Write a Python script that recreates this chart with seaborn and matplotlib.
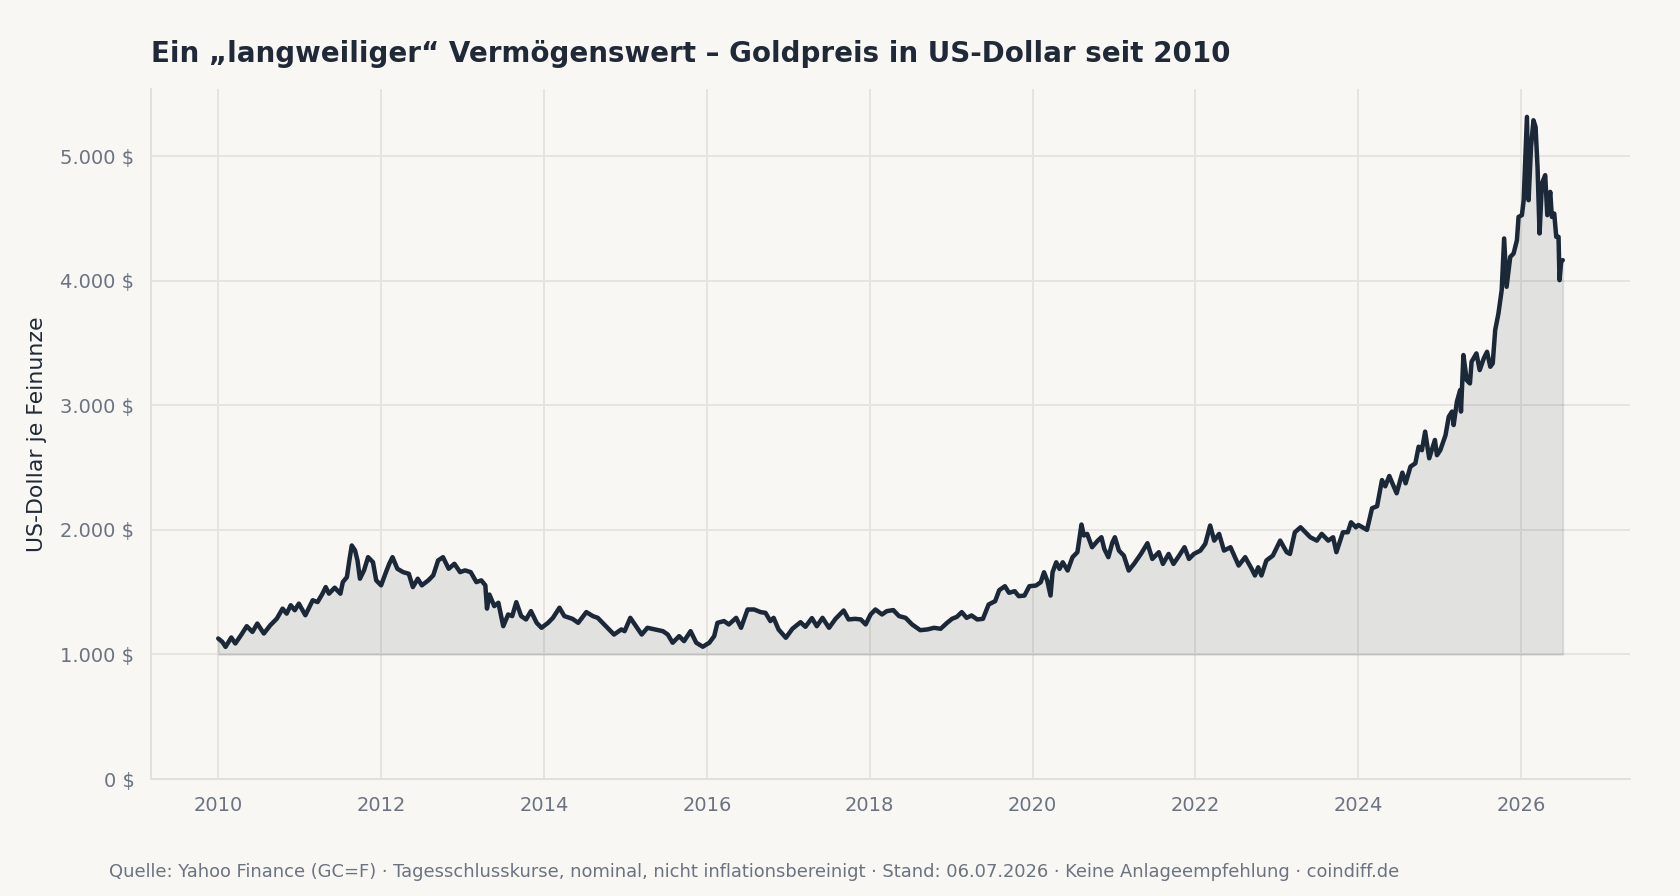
import numpy as np
import pandas as pd
import matplotlib
matplotlib.use("Agg")
import matplotlib.pyplot as plt
import seaborn as sns
from matplotlib.ticker import FuncFormatter, MultipleLocator

# ---- Data (decimal years, USD per troy ounce) ----
years_2010_2013 = [2010.00, 2010.05, 2010.09, 2010.16, 2010.21, 2010.28, 2010.35, 2010.42, 2010.48, 2010.56,
                   2010.64, 2010.72, 2010.79, 2010.84, 2010.89, 2010.94, 2010.99, 2011.07, 2011.16, 2011.22,
                   2011.28, 2011.32, 2011.36, 2011.43, 2011.50, 2011.53, 2011.58, 2011.61, 2011.64, 2011.68,
                   2011.71, 2011.74, 2011.79, 2011.84, 2011.90, 2011.94, 2012.00, 2012.06, 2012.10, 2012.14,
                   2012.20, 2012.27, 2012.34, 2012.39, 2012.45, 2012.50, 2012.58, 2012.64, 2012.70, 2012.76,
                   2012.83, 2012.90, 2012.97, 2013.03, 2013.10, 2013.17, 2013.23, 2013.28, 2013.30]
prices_2010_2013 = [1128, 1101, 1061, 1136, 1088, 1155, 1227, 1181, 1248, 1168,
                    1235, 1288, 1368, 1328, 1395, 1355, 1408, 1315, 1435, 1421,
                    1488, 1541, 1488, 1536, 1488, 1581, 1621, 1755, 1875, 1835,
                    1755, 1608, 1675, 1781, 1741, 1595, 1555, 1661, 1728, 1781,
                    1688, 1661, 1648, 1541, 1608, 1555, 1595, 1635, 1755, 1781,
                    1688, 1728, 1661, 1675, 1661, 1581, 1595, 1555, 1368]

years_2013_2016 = [2013.33, 2013.39, 2013.44, 2013.50, 2013.56, 2013.61, 2013.66, 2013.72, 2013.78, 2013.84,
                   2013.91, 2013.97, 2014.05, 2014.11, 2014.19, 2014.25, 2014.35, 2014.42, 2014.52, 2014.60,
                   2014.66, 2014.76, 2014.86, 2014.95, 2014.99, 2015.06, 2015.13, 2015.20, 2015.27, 2015.36,
                   2015.46, 2015.52, 2015.58, 2015.66, 2015.72, 2015.80, 2015.87, 2015.95, 2016.03, 2016.09,
                   2016.13, 2016.21, 2016.27, 2016.36, 2016.42, 2016.50, 2016.58]
prices_2013_2016 = [1481, 1388, 1415, 1227, 1321, 1308, 1420, 1308, 1281, 1348,
                    1254, 1214, 1254, 1294, 1375, 1308, 1286, 1254, 1340, 1308,
                    1294, 1227, 1160, 1201, 1187, 1294, 1227, 1160, 1214, 1201,
                    1187, 1160, 1094, 1147, 1107, 1187, 1094, 1062, 1094, 1147,
                    1254, 1268, 1241, 1294, 1214, 1361, 1361]

years_2016_2019 = [2016.66, 2016.72, 2016.78, 2016.82, 2016.88, 2016.97, 2017.05, 2017.15, 2017.21, 2017.29,
                   2017.35, 2017.42, 2017.50, 2017.58, 2017.68, 2017.74, 2017.82, 2017.89, 2017.95, 2018.01,
                   2018.07, 2018.15, 2018.21, 2018.29, 2018.36, 2018.44, 2018.52, 2018.62, 2018.71, 2018.79,
                   2018.87, 2018.95, 2019.01, 2019.07, 2019.13, 2019.19, 2019.25, 2019.32, 2019.39, 2019.46,
                   2019.54, 2019.59, 2019.66, 2019.71, 2019.78, 2019.83, 2019.90, 2019.96]
prices_2016_2019 = [1340, 1334, 1268, 1294, 1201, 1134, 1206, 1259, 1222, 1292,
                    1227, 1294, 1214, 1286, 1353, 1281, 1286, 1281, 1241, 1321,
                    1361, 1321, 1348, 1356, 1308, 1294, 1241, 1195, 1201, 1214,
                    1206, 1254, 1286, 1302, 1340, 1294, 1313, 1281, 1286, 1401,
                    1428, 1516, 1548, 1495, 1508, 1468, 1473, 1548]

years_2020_2023 = [2020.04, 2020.10, 2020.14, 2020.18, 2020.22, 2020.245, 2020.29, 2020.33, 2020.37, 2020.43,
                   2020.49, 2020.55, 2020.60, 2020.63, 2020.67, 2020.73, 2020.80, 2020.845, 2020.88, 2020.93,
                   2020.98, 2021.01, 2021.06, 2021.12, 2021.18, 2021.245, 2021.33, 2021.41, 2021.47, 2021.55,
                   2021.60, 2021.67, 2021.73, 2021.80, 2021.865, 2021.92, 2021.98, 2022.06, 2022.12, 2022.18,
                   2022.23, 2022.29, 2022.35, 2022.43, 2022.53, 2022.61, 2022.69, 2022.73, 2022.77, 2022.81,
                   2022.87, 2022.95, 2023.04, 2023.12, 2023.16, 2023.22, 2023.29, 2023.35, 2023.41, 2023.49,
                   2023.55, 2023.63, 2023.69, 2023.73, 2023.81, 2023.87, 2023.91, 2023.97]
prices_2020_2023 = [1553, 1580, 1660, 1593, 1473, 1660, 1740, 1687, 1740, 1674,
                    1781, 1821, 2043, 1955, 1968, 1861, 1914, 1941, 1848, 1781,
                    1900, 1941, 1834, 1794, 1674, 1727, 1807, 1893, 1767, 1821,
                    1727, 1807, 1727, 1794, 1861, 1767, 1807, 1834, 1888, 2035,
                    1914, 1968, 1834, 1861, 1714, 1781, 1687, 1634, 1700, 1634,
                    1754, 1794, 1914, 1821, 1807, 1981, 2021, 1981, 1941, 1914,
                    1968, 1914, 1941, 1821, 1981, 1981, 2061, 2021]

years_2024_2026 = [2024.00, 2024.106, 2024.168, 2024.23, 2024.29, 2024.33, 2024.38, 2024.47, 2024.54, 2024.58,
                   2024.64, 2024.70, 2024.74, 2024.78, 2024.82, 2024.87, 2024.94, 2024.965, 2025.006, 2025.07,
                   2025.11, 2025.15, 2025.17, 2025.21, 2025.25, 2025.26, 2025.29, 2025.33, 2025.37, 2025.39,
                   2025.45, 2025.49, 2025.54, 2025.58, 2025.62, 2025.65, 2025.68, 2025.72, 2025.76, 2025.79,
                   2025.82, 2025.865, 2025.906, 2025.947, 2025.967, 2026.008, 2026.03, 2026.07, 2026.09, 2026.12,
                   2026.15, 2026.176, 2026.20, 2026.225, 2026.254, 2026.294, 2026.32, 2026.356, 2026.376, 2026.405,
                   2026.43, 2026.458, 2026.47, 2026.49, 2026.51]
prices_2024_2026 = [2040, 2000, 2174, 2190, 2400, 2350, 2433, 2294, 2460, 2374,
                    2508, 2535, 2668, 2640, 2789, 2575, 2722, 2600, 2640, 2760,
                    2909, 2950, 2842, 3030, 3123, 2950, 3404, 3203, 3176, 3350,
                    3417, 3283, 3377, 3430, 3310, 3337, 3604, 3738, 3925, 4340,
                    3952, 4192, 4219, 4326, 4513, 4527, 4647, 5316, 4647, 5075,
                    5289, 5235, 4914, 4380, 4781, 4848, 4527, 4714, 4513, 4540,
                    4353, 4353, 4005, 4152, 4166]

x_ticks = [2010, 2012, 2014, 2016, 2018, 2020, 2022, 2024, 2026]
fill_base = 1000

title = "Ein \u201elangweiliger\u201c Vermögenswert \u2013 Goldpreis in US-Dollar seit 2010"
y_label = "US-Dollar je Feinunze"
footer = ("Quelle: Yahoo Finance (GC=F) \u00b7 Tagesschlusskurse, nominal, nicht inflationsbereinigt "
          "\u00b7 Stand: 06.07.2026 \u00b7 Keine Anlageempfehlung \u00b7 coindiff.de")

# ---- Styling ----
BG = "#f8f7f4"
LINE = "#1b2838"
GRID = "#e6e4df"
DARK = "#1f2937"
MUTED = "#6b7280"

sns.set_theme(style="whitegrid", rc={
    "figure.facecolor": BG, "axes.facecolor": BG, "savefig.facecolor": BG,
    "grid.color": GRID, "grid.linewidth": 1.0,
    "axes.edgecolor": "#e2e0da", "axes.linewidth": 1.0,
})
plt.rcParams["font.family"] = ["DejaVu Sans"]

df = pd.DataFrame({
    "Jahr": np.concatenate([years_2010_2013, years_2013_2016, years_2016_2019,
                            years_2020_2023, years_2024_2026]),
    "Preis": np.concatenate([prices_2010_2013, prices_2013_2016, prices_2016_2019,
                             prices_2020_2023, prices_2024_2026]),
})

fig = plt.figure(figsize=(12, 6.4), dpi=140)
ax = fig.add_axes([151 / 1680, 1 - 779 / 896, 1479 / 1680, 690 / 896])

ax.fill_between(df["Jahr"], df["Preis"], fill_base, color=LINE, alpha=0.1, zorder=1)
sns.lineplot(data=df, x="Jahr", y="Preis", ax=ax, color=LINE, linewidth=2.3,
             estimator=None, zorder=3)

ax.set_ylim(0, 5540)
ax.set_xticks(x_ticks)
ax.xaxis.set_major_formatter(FuncFormatter(lambda v, p: f"{int(round(v))}"))
ax.yaxis.set_major_locator(MultipleLocator(1000))
ax.yaxis.set_major_formatter(FuncFormatter(lambda v, p: f"{int(v):,} $".replace(",", ".")))
ax.set_xlabel("")
ax.set_ylabel("")
ax.set_axisbelow(True)

for s in ["top", "right"]:
    ax.spines[s].set_visible(False)
for s in ["left", "bottom"]:
    ax.spines[s].set_color("#e2e0da")

ax.tick_params(axis="both", length=4, width=1, color="#9ca3af",
               labelcolor=MUTED, labelsize=10, pad=4.5)

fig.text(151 / 1680, 1 - 54 / 896, title, fontsize=14.3, fontweight="bold",
         color=DARK, ha="left", va="center")
fig.text(37.5 / 1680, 1 - 434 / 896, y_label, fontsize=11.3, color=DARK,
         rotation=90, ha="center", va="center")
fig.text(109 / 1680, 1 - 872 / 896, footer, fontsize=9.2, color=MUTED,
         ha="left", va="center")

fig.savefig("out.png", dpi=140, facecolor=BG)
